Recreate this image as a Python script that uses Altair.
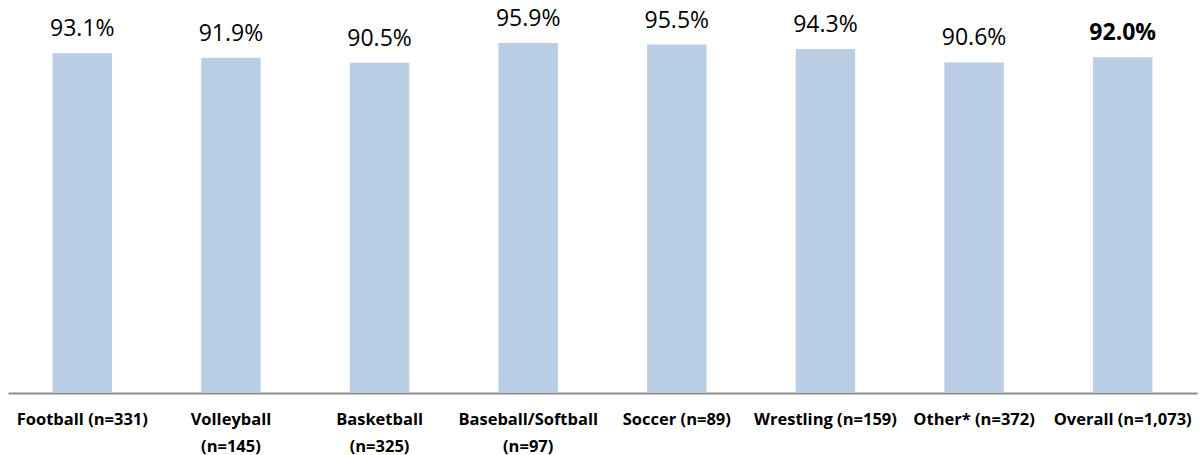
import altair as alt
import pandas as pd

categories = ["Football (n=331)", "Volleyball\n(n=145)", "Basketball\n(n=325)",
              "Baseball/Softball\n(n=97)", "Soccer (n=89)", "Wrestling (n=159)",
              "Other* (n=372)", "Overall (n=1,073)"]
values = [93.1, 91.9, 90.5, 95.9, 95.5, 94.3, 90.6, 92.0]
labels = ["93.1%", "91.9%", "90.5%", "95.9%", "95.5%", "94.3%", "90.6%", "92.0%"]
bold_flags = [False, False, False, False, False, False, False, True]

df = pd.DataFrame({"cat": categories, "value": values, "label": labels, "bold": bold_flags})

x = alt.X("cat:N", sort=categories,
          scale=alt.Scale(paddingInner=0.6, paddingOuter=0.3),
          axis=alt.Axis(title=None, labelAngle=0, labelFont="Open Sans", labelFontSize=16.5,
                        labelFontWeight="bold", labelColor="#000000", labelPadding=18,
                        labelLineHeight=27, labelExpr="split(datum.label, '\\n')",
                        ticks=False, domainColor="#8c8c8c", domainWidth=2,
                        labelLimit=250))
y = alt.Y("value:Q", scale=alt.Scale(domain=[0, 107.7], nice=False), axis=None)

bars = alt.Chart(df).mark_bar(color="#B9CDE5").encode(x=x, y=y)

text_normal = alt.Chart(df).transform_filter("!datum.bold").mark_text(
    font="Open Sans", fontSize=23, baseline="alphabetic", dy=-17, color="#000000"
).encode(x=x, y=y, text="label:N")

text_bold = alt.Chart(df).transform_filter("datum.bold").mark_text(
    font="Open Sans", fontSize=23, fontWeight="bold", baseline="alphabetic", dy=-17, color="#000000"
).encode(x=x, y=y, text="label:N")

chart = alt.layer(bars, text_normal, text_bold).properties(
    width=1189, height=393,
    background="#ffffff",
    autosize=alt.AutoSizeParams(type="none"),
    padding={"left": 8, "top": 0, "right": 3, "bottom": 62},
).configure_view(strokeWidth=0, stroke=None)

chart.save("out.html", embed_options={"renderer": "svg", "actions": False})
